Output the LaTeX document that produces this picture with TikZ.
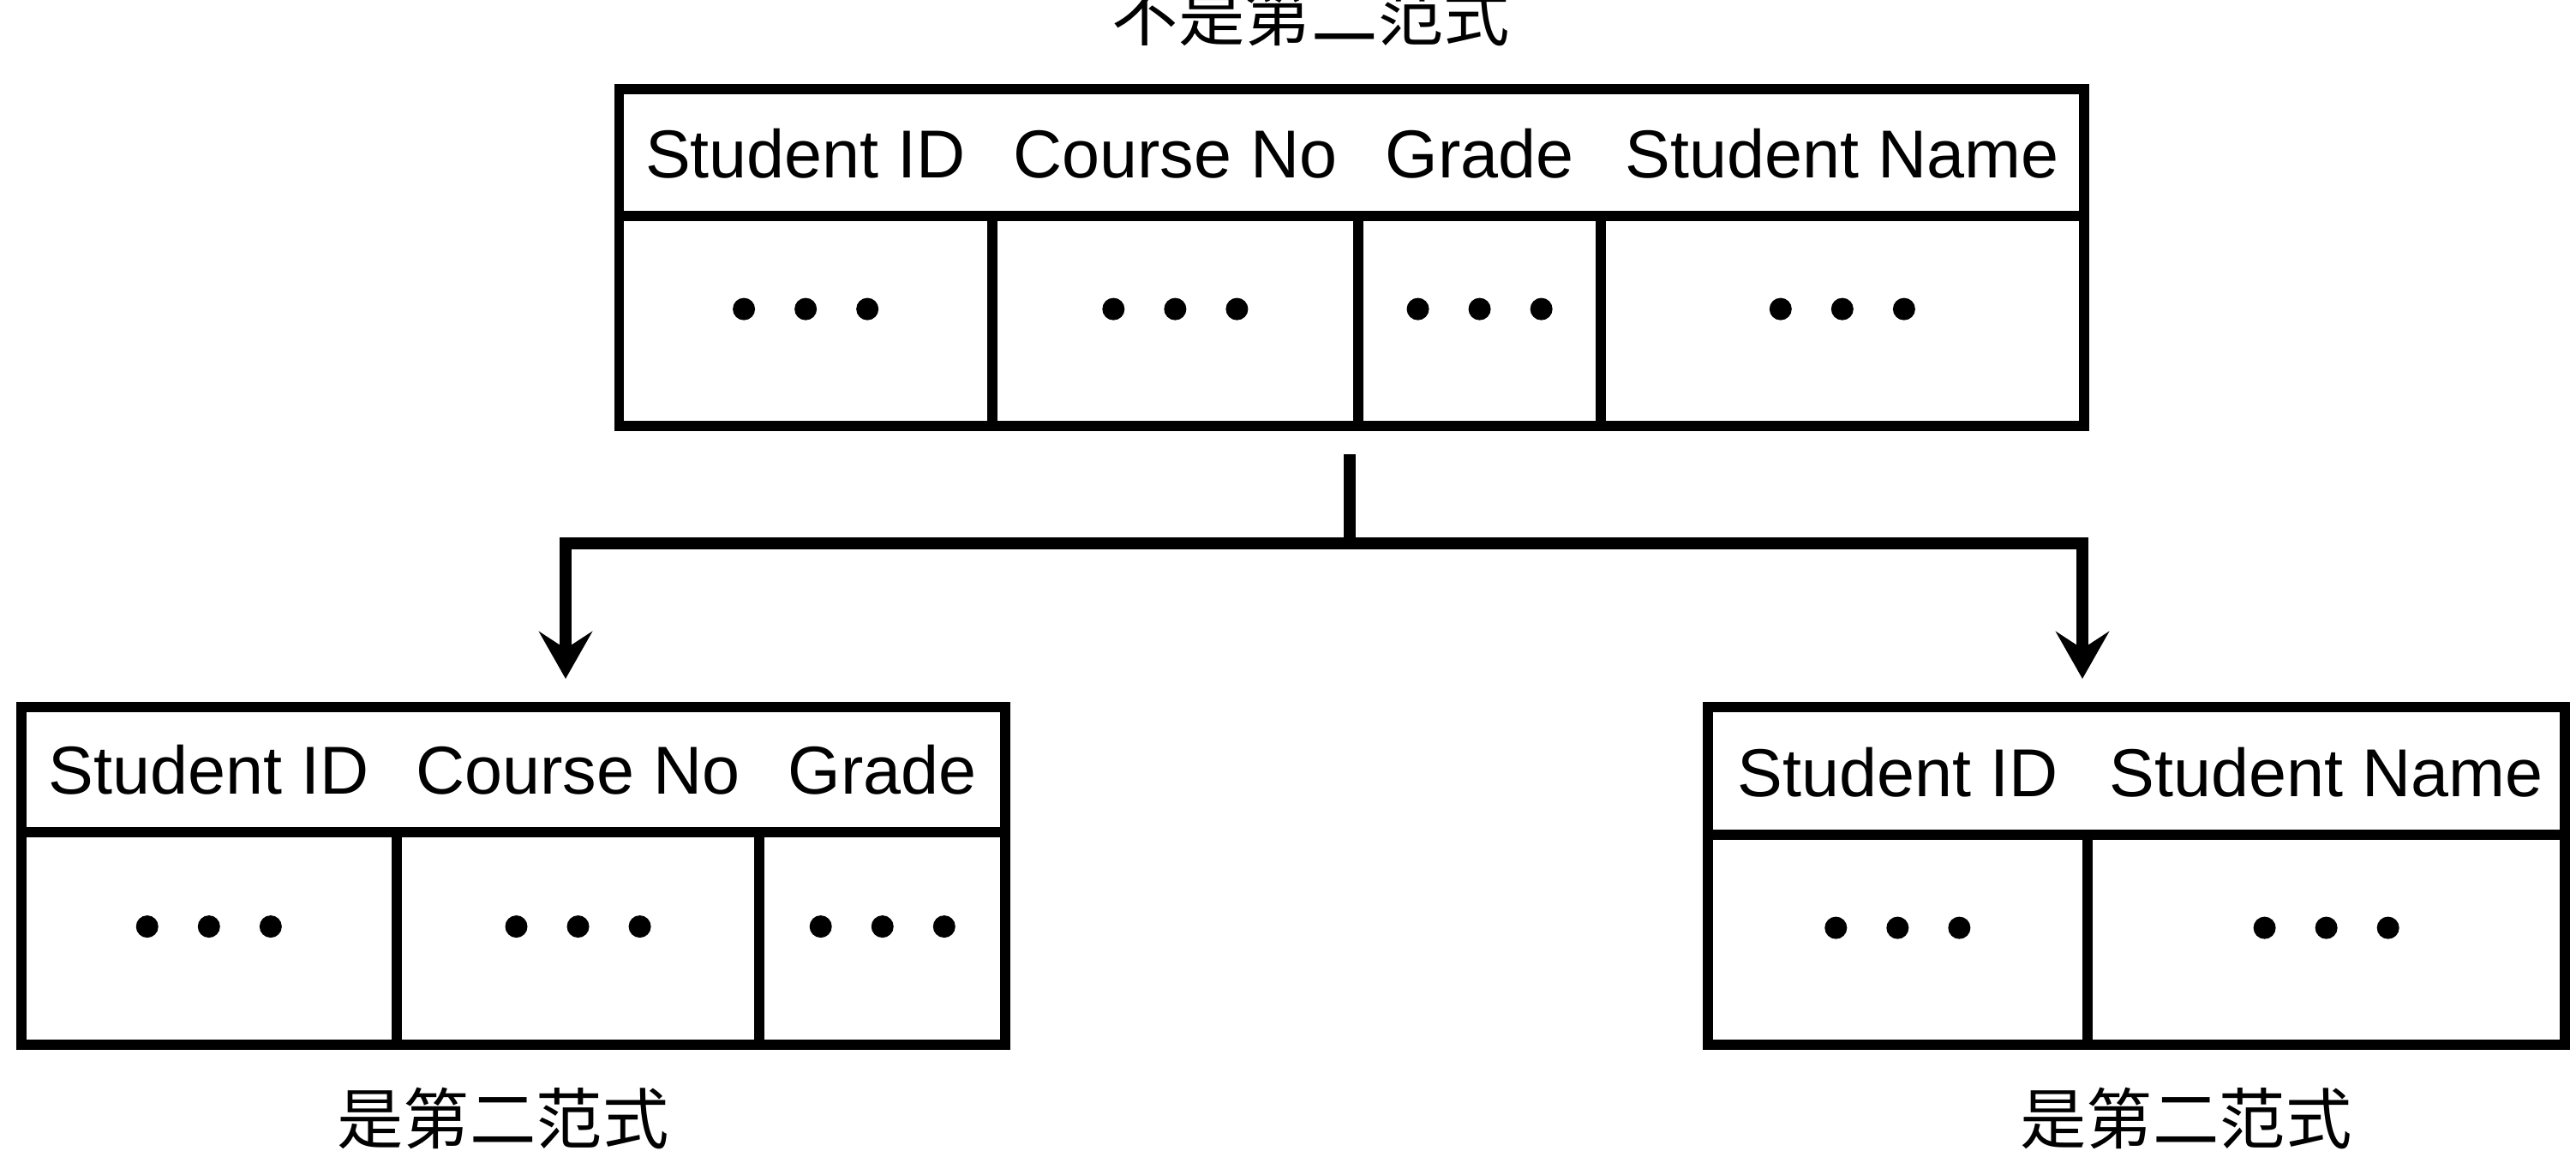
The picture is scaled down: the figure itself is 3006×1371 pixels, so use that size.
\documentclass[tikz,border=0pt]{standalone}
\usepackage{fontspec}
\setmainfont{Liberation Sans}
\newfontfamily\cjk{Noto Sans CJK SC}
\usetikzlibrary{arrows.meta}

\begin{document}
\begin{tikzpicture}[x=0.01cm,y=-0.01cm,
  frame/.style={draw,line width=3.4pt,inner sep=0pt,outer sep=0pt},
  cell/.style={frame,anchor=north west,minimum height=#1},
  head/.style={anchor=base,font=\fontsize{22.5}{27}\selectfont},
  note/.style={anchor=base,font=\cjk\fontsize{22}{26}\selectfont},
  link/.style={line width=4pt},
  arr/.style={link,-{Stealth[length=0.55cm,width=0.62cm,inset=0.2cm]}}]
  \useasboundingbox (0,0) rectangle (3006,1371);

  % top table: not 2NF
  \node[note] (t-n) at (1530,48) {不是第二范式};
  \node[frame,minimum width=17.08cm,minimum height=1.48cm] (t-h) at (1577,178) {};
  \node[cell=2.45cm,minimum width=4.35cm] (t-1) at (t-h.south west) {};
  \node[cell=2.45cm,minimum width=4.27cm] (t-2) at (t-1.north east) {};
  \node[cell=2.45cm,minimum width=2.83cm] (t-3) at (t-2.north east) {};
  \node[cell=2.45cm,minimum width=5.63cm] (t-4) at (t-3.north east) {};
  \node[head] at ([yshift=0.45cm]t-1.north) {Student ID};
  \node[head] at ([yshift=0.45cm]t-2.north) {Course No};
  \node[head] at ([yshift=0.45cm]t-3.north) {Grade};
  \node[head] at ([yshift=0.45cm]t-4.north) {Student Name};

  % left table: 2NF
  \node[frame,minimum width=11.48cm,minimum height=1.46cm] (l-h) at (599,898) {};
  \node[cell=2.48cm,minimum width=4.38cm] (l-1) at (l-h.south west) {};
  \node[cell=2.48cm,minimum width=4.23cm] (l-2) at (l-1.north east) {};
  \node[cell=2.48cm,minimum width=2.87cm] (l-3) at (l-2.north east) {};
  \node[head] at ([yshift=0.45cm]l-1.north) {Student ID};
  \node[head] at ([yshift=0.45cm]l-2.north) {Course No};
  \node[head] at ([yshift=0.45cm]l-3.north) {Grade};
  \node[note] (l-n) at (587,1334) {是第二范式};

  % right table: 2NF
  \node[frame,minimum width=10.00cm,minimum height=1.49cm] (r-h) at (2493,899.5) {};
  \node[cell=2.45cm,minimum width=4.43cm] (r-1) at (r-h.south west) {};
  \node[cell=2.45cm,minimum width=5.57cm] (r-2) at (r-1.north east) {};
  \node[head] at ([yshift=0.45cm]r-1.north) {Student ID};
  \node[head] at ([yshift=0.45cm]r-2.north) {Student Name};
  \node[note] (r-n) at (2551,1334) {是第二范式};

  % dots in every data cell
  \foreach \c in {t-1,t-2,t-3,t-4,l-1,l-2,l-3,r-1,r-2}
    \foreach \d in {-1,0,1}
      \fill ([xshift=\d*0.72cm,yshift=0.14cm]\c.center) circle (0.13cm);

  % split arrows
  \coordinate (fork) at (1575,634);
  \coordinate (l-in) at (660,792);
  \coordinate (r-in) at (2430,792);
  \draw[link] ([yshift=-0.33cm]fork |- t-1.south) -- (fork);
  \draw[arr] (fork) -| (l-in);
  \draw[arr] (fork) -| (r-in);
\end{tikzpicture}
\end{document}
